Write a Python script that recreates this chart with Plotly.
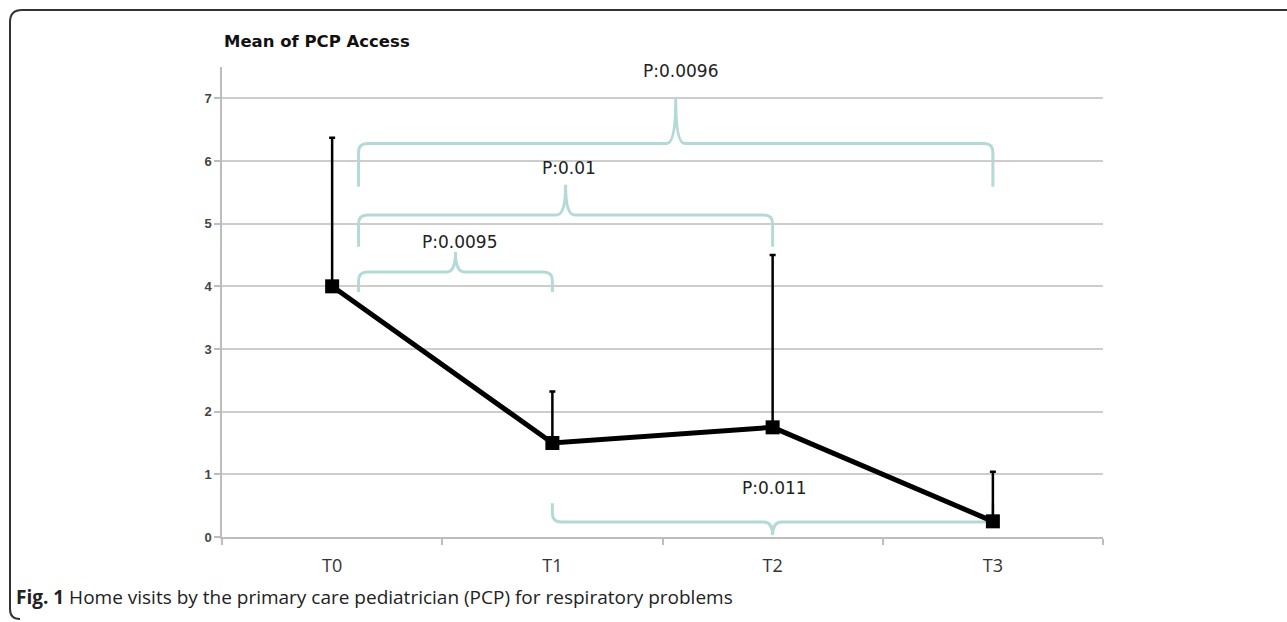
import plotly.graph_objects as go

# ---- data ----
timepoints = ["T0", "T1", "T2", "T3"]
mean_access = [4.0, 1.5, 1.75, 0.25]
err_plus = [2.37, 0.82, 2.75, 0.79]

# comparison braces (x in category index units, y in data units)
brace_x0 = [0.12, 0.12, 0.12, 1.0]
brace_x1 = [1.0, 2.0, 3.0, 3.0]
brace_tip_x = [0.56, 1.06, 1.56, 2.0]
brace_level = [4.23, 5.14, 6.28, 0.24]
brace_end = [3.91, 4.63, 5.59, 0.54]
brace_tip = [4.55, 5.62, 7.0, 0.03]
p_labels = ["P:0.0095", "P:0.01", "P:0.0096", "P:0.011"]
p_label_x = [0.58, 1.075, 1.58, 2.01]
p_label_y = [4.70, 5.89, 7.43, 0.78]

y_ticks = [0, 1, 2, 3, 4, 5, 6, 7]

BRACE_COLOR = "#b4dad7"

fig = go.Figure()
fig.add_trace(go.Scatter(
    x=list(range(len(timepoints))), y=mean_access,
    mode="lines+markers",
    line=dict(color="black", width=5),
    marker=dict(symbol="square", size=14, color="black"),
    error_y=dict(type="data", symmetric=False, array=err_plus,
                 arrayminus=[0] * len(err_plus),
                 color="black", thickness=2.5, width=3),
    showlegend=False, cliponaxis=False,
))


def brace_path(x0, x1, xm, lvl, yend, ytip):
    dx = 0.04
    sgn = 1 if ytip > lvl else -1
    r = 0.14 * sgn
    return (f"M {x0},{yend} L {x0},{lvl - r} Q {x0},{lvl} {x0 + dx},{lvl} "
            f"L {xm - dx},{lvl} Q {xm},{lvl} {xm},{ytip} "
            f"Q {xm},{lvl} {xm + dx},{lvl} L {x1 - dx},{lvl} "
            f"Q {x1},{lvl} {x1},{lvl - r} L {x1},{yend}")


for i in range(len(p_labels)):
    fig.add_shape(type="path", xref="x", yref="y",
                  path=brace_path(brace_x0[i], brace_x1[i], brace_tip_x[i],
                                  brace_level[i], brace_end[i], brace_tip[i]),
                  line=dict(color=BRACE_COLOR, width=3), layer="below")
    fig.add_annotation(x=p_label_x[i], y=p_label_y[i], xref="x", yref="y",
                       text=p_labels[i], showarrow=False,
                       font=dict(family="DejaVu Sans", size=17, color="#222"))

# outer frame (pixel coordinates relative to the plot origin)
fig.add_shape(type="path", xref="paper", yref="paper",
              xsizemode="pixel", ysizemode="pixel", xanchor=0, yanchor=0,
              path="M 1100,527 L -200,527 Q -212,527 -212,515 L -212,-72 Q -212,-82 -202,-82",
              line=dict(color="#333", width=2))

fig.add_annotation(xref="paper", yref="paper", x=0, y=1.054, xanchor="left",
                   yanchor="middle", text="<b>Mean of PCP Access</b>", showarrow=False,
                   font=dict(family="DejaVu Sans", size=16.5, color="#111"))
fig.add_annotation(xref="paper", yref="paper", x=-0.236, y=-0.128, xanchor="left",
                   yanchor="middle",
                   text="<b>Fig. 1</b> Home visits by the primary care pediatrician (PCP) for respiratory problems",
                   showarrow=False,
                   font=dict(family="Open Sans", size=19, color="#222"))

fig.update_layout(
    width=1287, height=622,
    margin=dict(l=222, r=184, t=67, b=85),
    paper_bgcolor="white", plot_bgcolor="white",
    xaxis=dict(range=[-0.5, 3.5], tickvals=list(range(len(timepoints))),
               ticktext=timepoints, ticks="", showgrid=False, zeroline=False,
               showline=True, linecolor="#bdbdbd", linewidth=1.5,
               ticklabelstandoff=12,
               tickfont=dict(family="Open Sans", size=18, color="#333"),
               minor=dict(tick0=0.5, dtick=1, ticks="outside", ticklen=6,
                          tickcolor="#bdbdbd", tickwidth=1.5, showgrid=False)),
    yaxis=dict(range=[0, 7.5], tickvals=y_ticks, showgrid=True,
               gridcolor="#cdcdcd", gridwidth=1.5, zeroline=False,
               showline=True, linecolor="#bdbdbd", linewidth=1.5,
               ticks="outside", ticklen=6, tickcolor="#bdbdbd", tickwidth=1.5,
               tickfont=dict(family="Liberation Sans", size=13, color="#444", weight="bold")),
)

fig.write_html("out.html")
